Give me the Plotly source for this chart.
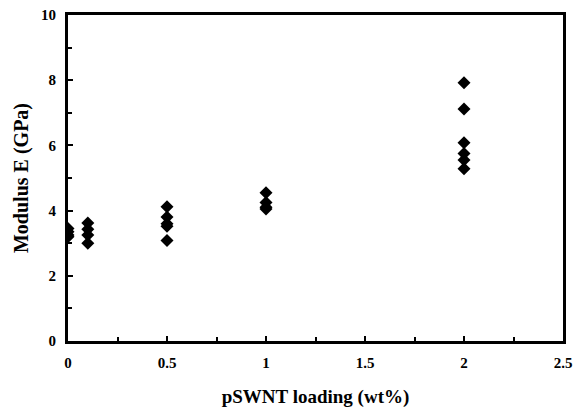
import plotly.graph_objects as go

loading = [0, 0, 0, 0,
           0.1, 0.1, 0.1, 0.1,
           0.5, 0.5, 0.5, 0.5, 0.5,
           1, 1, 1, 1,
           2, 2, 2, 2, 2, 2]
modulus = [3.45, 3.35, 3.25, 3.2,
           3.62, 3.43, 3.25, 3.0,
           4.12, 3.8, 3.6, 3.52, 3.08,
           4.55, 4.25, 4.1, 4.05,
           7.92, 7.12, 6.08, 5.75, 5.55, 5.28]

x_ticks = [0, 0.5, 1, 1.5, 2, 2.5]
x_labels = ["0", "0.5", "1", "1.5", "2", "2.5"]
y_ticks = [0, 2, 4, 6, 8, 10]

font = "Liberation Serif"

fig = go.Figure(go.Scatter(
    x=loading, y=modulus, mode="markers",
    marker=dict(symbol="diamond", size=10, color="black", line=dict(width=0)),
    showlegend=False))

fig.update_layout(
    width=574, height=412,
    margin=dict(l=68, r=11, t=15, b=71),
    paper_bgcolor="white", plot_bgcolor="white",
    font=dict(family=font, color="black"),
)
fig.update_xaxes(
    range=[0, 2.5], tickvals=x_ticks, ticktext=x_labels,
    ticks="inside", ticklen=5, tickwidth=2, tickcolor="black",
    minor=dict(dtick=0.25, tick0=0, ticks="inside", ticklen=4, tickwidth=2, tickcolor="black"),
    showline=True, linewidth=3, linecolor="black", mirror=True,
    showgrid=False, zeroline=False, automargin=False,
    tickfont=dict(family=font, size=15, color="black", weight="bold"),
    ticklabelstandoff=6,
    title=dict(text="<b>pSWNT loading (wt%)</b>", font=dict(family=font, size=19, color="black"), standoff=20),
)
fig.update_yaxes(
    range=[0, 10], tickvals=y_ticks,
    ticks="inside", ticklen=5, tickwidth=2, tickcolor="black",
    minor=dict(dtick=1, tick0=0, ticks="inside", ticklen=4, tickwidth=2, tickcolor="black"),
    showline=True, linewidth=3, linecolor="black", mirror=True,
    showgrid=False, zeroline=False, automargin=False,
    tickfont=dict(family=font, size=15, color="black", weight="bold"),
    ticklabelstandoff=6,
    title=dict(text="<b>Modulus E (GPa)</b>", font=dict(family=font, size=20, color="black"), standoff=8),
)

fig.write_html("out.html", config={"displayModeBar": False},
               post_script="document.body.style.margin='0';document.body.style.overflow='hidden';")
